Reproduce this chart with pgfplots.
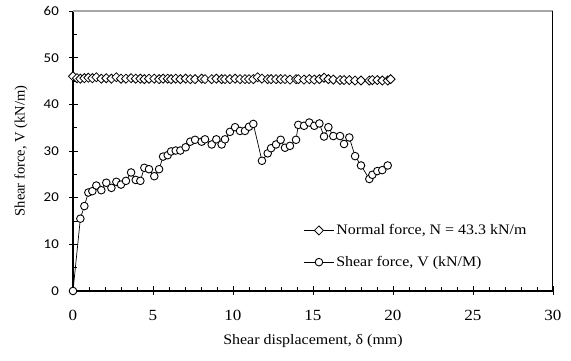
\documentclass[border=0pt]{standalone}
\usepackage{fontspec}
\setmainfont{Liberation Serif}[FakeStretch=1.1]
\newfontfamily\plainserif{Liberation Serif}
\newfontfamily\ytfont{Carlito}[FakeStretch=1.1]
\usepackage{pgfplots}
\usepackage{pgfplotstable}
\pgfplotsset{compat=1.18}

\pgfplotstableread{
x y
0 0
0.46 15.5
0.71 18.2
0.96 21.1
1.21 21.4
1.46 22.6
1.77 21.6
2.08 23.2
2.40 22.1
2.71 23.4
3.00 22.8
3.31 23.6
3.63 25.4
3.92 23.8
4.21 23.6
4.46 26.4
4.75 26.1
5.08 24.6
5.38 26.1
5.63 28.8
5.92 29.1
6.13 29.9
6.42 30.1
6.71 30.1
7.04 30.8
7.33 32.0
7.63 32.4
8.04 32.0
8.25 32.5
8.67 31.4
8.96 32.5
9.29 31.4
9.50 32.5
9.81 34.1
10.13 35.1
10.44 34.3
10.75 34.3
11.00 35.2
11.27 35.8
11.81 27.9
12.17 29.5
12.38 30.6
12.69 31.4
12.98 32.4
13.25 30.7
13.56 31.1
13.94 32.4
14.08 35.6
14.44 35.4
14.77 36.1
15.08 35.4
15.40 35.9
15.69 33.1
15.96 35.1
16.27 33.2
16.69 33.2
16.94 31.5
17.27 32.9
17.63 28.9
18.00 26.9
18.52 24.0
18.71 24.9
19.02 25.7
19.33 25.9
19.67 26.9
}\sheartable

\pgfplotstableread{
x y
0 46.0
0.25 45.6
0.46 45.5
0.71 45.6
0.96 45.7
1.21 45.6
1.46 45.8
1.77 45.5
2.08 45.6
2.40 45.5
2.71 45.8
3.00 45.5
3.31 45.5
3.63 45.6
3.92 45.5
4.21 45.5
4.46 45.4
4.75 45.5
5.08 45.5
5.38 45.4
5.63 45.5
5.92 45.5
6.13 45.4
6.42 45.5
6.71 45.4
7.04 45.5
7.33 45.4
7.63 45.4
8.04 45.5
8.25 45.4
8.67 45.4
8.96 45.5
9.29 45.4
9.50 45.4
9.81 45.4
10.13 45.5
10.44 45.4
10.75 45.4
11.00 45.4
11.27 45.4
11.54 45.8
11.81 45.5
12.17 45.4
12.38 45.4
12.69 45.4
12.98 45.4
13.25 45.4
13.56 45.3
13.94 45.4
14.08 45.4
14.44 45.3
14.77 45.4
15.08 45.3
15.40 45.4
15.69 45.7
15.96 45.4
16.27 45.3
16.69 45.2
16.94 45.2
17.27 45.2
17.63 45.1
18.00 45.1
18.52 45.1
18.71 45.2
19.02 45.2
19.33 45.1
19.67 45.1
19.85 45.4
}\normaltable

\begin{document}
\begin{tikzpicture}
\useasboundingbox (-73pt,-70pt) rectangle (498pt,291pt);
\begin{axis}[
  at={(0pt,0pt)}, anchor=south west,
  scale only axis, width=480pt, height=280pt,
  xmin=0, xmax=30, ymin=0, ymax=60,
  xtick={0,5,...,30}, ytick={0,10,...,60},
  minor x tick num=4, minor y tick num=1,
  axis x line*=bottom, axis y line*=left,
  axis line style={black, line width=1.1pt},
  tick style={black, line width=0.8pt},
  tick align=inside, major tick length=5pt, minor tick length=4pt,
  extra x ticks={5,10,...,30}, extra x tick labels={},
  extra y ticks={10,20,...,60}, extra y tick labels={},
  extra tick style={tick align=outside, major tick length=4pt},
  /pgf/number format/assume math mode=true,
  xticklabel={\pgfmathprintnumber{\tick}},
  yticklabel={\pgfmathprintnumber{\tick}},
  x tick label style={font=\fontsize{15.5}{17}\selectfont, anchor=north, inner sep=0pt, yshift=-19pt},
  y tick label style={font=\ytfont\fontsize{13.5}{15}\selectfont, anchor=east, inner sep=0pt, xshift=-14pt},
  xlabel={Shear displacement, δ (mm)},
  ylabel={Shear force, V (kN/m)},
  xlabel style={font=\fontsize{14.5}{16}\selectfont, at={(axis description cs:0.5,0)}, anchor=north, inner sep=0pt, yshift=-43pt},
  ylabel style={font=\plainserif\fontsize{14.5}{16}\selectfont, at={(axis description cs:-0.108,0.5)}, anchor=center, inner sep=0pt},
  legend style={draw=none, fill=none, at={(axis description cs:0.48,0.245)}, anchor=north west,
    font=\fontsize{14.5}{16}\selectfont, row sep=16pt, inner sep=0pt},
  legend cell align=left,
  legend image code/.code={\draw[mark repeat=2,mark phase=2] plot coordinates {(0pt,0pt)(15pt,0pt)(30pt,0pt)};},
]
\addplot[black, line width=0.7pt, mark=square*, mark size=3.2pt,
  mark options={rotate=45, fill=white, draw=black, line width=0.8pt, solid}]
  table[x=x,y=y] {\normaltable};
\addlegendentry{Normal force, N = 43.3 kN/m}
\addplot[black, line width=0.7pt, mark=*, mark size=3.8pt,
  mark options={fill=white, draw=black, line width=0.9pt, solid}]
  table[x=x,y=y] {\sheartable};
\addlegendentry{Shear force, V (kN/M)}
\draw[gray!70, line width=1.3pt] (rel axis cs:0,1) -- (rel axis cs:1,1);
\draw[black, line width=1.1pt] (rel axis cs:1,0) -- (rel axis cs:1,1);
\end{axis}
\end{tikzpicture}
\end{document}
